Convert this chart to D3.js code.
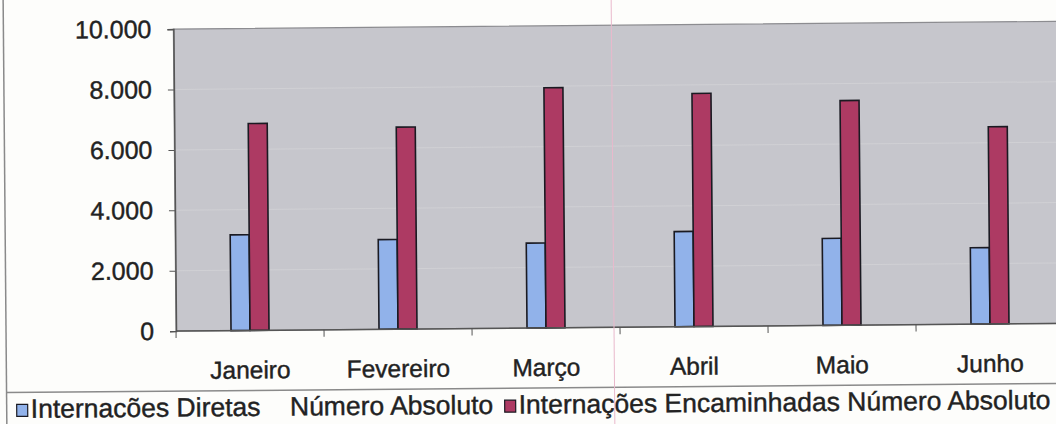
<!DOCTYPE html>
<html><head><meta charset="utf-8">
<script src="https://cdn.jsdelivr.net/npm/d3@7"></script>
<style>html,body{margin:0;padding:0;background:#fff;}svg{display:block;}</style>
</head><body>
<svg id="c" width="1056" height="424"></svg>
<script>
const months = ["Janeiro","Fevereiro","Março","Abril","Maio","Junho"];
const seriesNames = ["Internacões Diretas    Número Absoluto","Internações Encaminhadas Número Absoluto"];
const diretas = [3170, 2970, 2810, 3150, 2880, 2530];
const encaminhadas = [6850, 6690, 7950, 7720, 7440, 6530];
const yTicks = [0, 2000, 4000, 6000, 8000, 10000];
const yTickLabels = ["0","2.000","4.000","6.000","8.000","10.000"];
const colors = ["#91b2ea", "#ad3a63"];

(function(){
const W = 1056, H = 424;
const FONT = "'Liberation Sans', Arial, sans-serif";
const svg = d3.select("#c");
svg.append("rect").attr("width", W).attr("height", H).attr("fill", "#fdfdfb");
const g = svg.append("g").attr("transform", "rotate(-0.5 528 212)");

const pL = 175, pR = 175 + 6*148, pT = 26, pB = 328;
const x0 = d3.scaleBand().domain(months).range([pL, pR]).padding(0);
const bw = 19;
const po = (x0.bandwidth()/bw - 2)/2;
const x1 = d3.scaleBand().domain([0,1]).range([0, x0.bandwidth()]).paddingInner(0).paddingOuter(po);
const y = d3.scaleLinear().domain([0, 10000]).range([pB, pT]);

// outer frame lines
g.append("line").attr("x1", 5).attr("x2", 5).attr("y1", -10).attr("y2", 440).attr("stroke", "#8a8a8a").attr("stroke-width", 1.5);
g.append("line").attr("x1", 5).attr("x2", 1070).attr("y1", 388).attr("y2", 388).attr("stroke", "#8a8a8a").attr("stroke-width", 1.5);

// plot area
g.append("rect").attr("x", pL).attr("y", pT).attr("width", pR-pL).attr("height", pB-pT)
  .attr("fill", "#c6c6cc").attr("stroke", "#8c8c90").attr("stroke-width", 1.2);

// faint gridlines
g.append("g").selectAll("line").data(yTicks.slice(1,-1)).join("line")
  .attr("x1", pL).attr("x2", pR).attr("y1", d => y(d)).attr("y2", d => y(d))
  .attr("stroke", "#d0d0d4").attr("stroke-width", 1);

// bars
const data = months.map((m,i) => ({m, v:[diretas[i], encaminhadas[i]]}));
const grp = g.append("g").selectAll("g").data(data).join("g").attr("transform", d => `translate(${x0(d.m)},0)`);
grp.selectAll("rect").data(d => d.v.map((v,k)=>({v,k}))).join("rect")
  .attr("x", d => x1(d.k)).attr("width", x1.bandwidth())
  .attr("y", d => y(d.v)).attr("height", d => y(0) - y(d.v))
  .attr("fill", d => colors[d.k]).attr("stroke", "#1a1a22").attr("stroke-width", 1.6);

// y axis
const yAxis = d3.axisLeft(y).tickValues(yTicks).tickFormat((d,i)=>yTickLabels[i]).tickSize(6).tickPadding(16);
const ya = g.append("g").attr("transform", `translate(${pL},0)`).call(yAxis);
ya.select(".domain").attr("stroke", "#555").attr("stroke-width", 1.5);
ya.selectAll(".tick line").attr("stroke", "#555");
ya.selectAll("text").attr("font-family", FONT).attr("font-size", 25).attr("fill", "#222")
  .attr("stroke", "#222").attr("stroke-width", 0.4);

// x axis
const xa = g.append("g").attr("transform", `translate(0,${pB})`);
xa.append("line").attr("x1", pL).attr("x2", pR).attr("y1", 0).attr("y2", 0).attr("stroke", "#555").attr("stroke-width", 1.5);
const boundaries = months.map(m => x0(m)).concat([pR]);
xa.selectAll("line.t").data(boundaries).join("line").attr("class","t")
  .attr("x1", d=>d).attr("x2", d=>d).attr("y1", 0).attr("y2", 7).attr("stroke", "#555");
xa.selectAll("text").data(months).join("text")
  .attr("x", d => x0(d) + x0.bandwidth()/2).attr("y", 48)
  .attr("text-anchor", "middle").attr("font-family", FONT)
  .attr("font-size", 24.5).attr("fill", "#222").attr("stroke", "#222").attr("stroke-width", 0.4).text(d => d);

// legend
const legX = [15, 503];
const leg = g.append("g");
seriesNames.forEach((s,i) => {
  leg.append("rect").attr("x", legX[i]).attr("y", 400).attr("width", 11).attr("height", 12)
    .attr("fill", colors[i]).attr("stroke", "#1a1a22").attr("stroke-width", 1.2);
  leg.append("text").attr("x", legX[i] + 14).attr("y", 413.5)
    .style("white-space","pre")
    .attr("font-family", FONT).attr("font-size", 26.5).attr("fill", "#222")
    .attr("stroke", "#222").attr("stroke-width", 0.4).text(s);
});

// scan artifact line
g.append("line").attr("x1", 613).attr("x2", 613).attr("y1", -10).attr("y2", 440).attr("stroke", "#e9b9cc").attr("stroke-width", 1);
})();
</script>
</body></html>
